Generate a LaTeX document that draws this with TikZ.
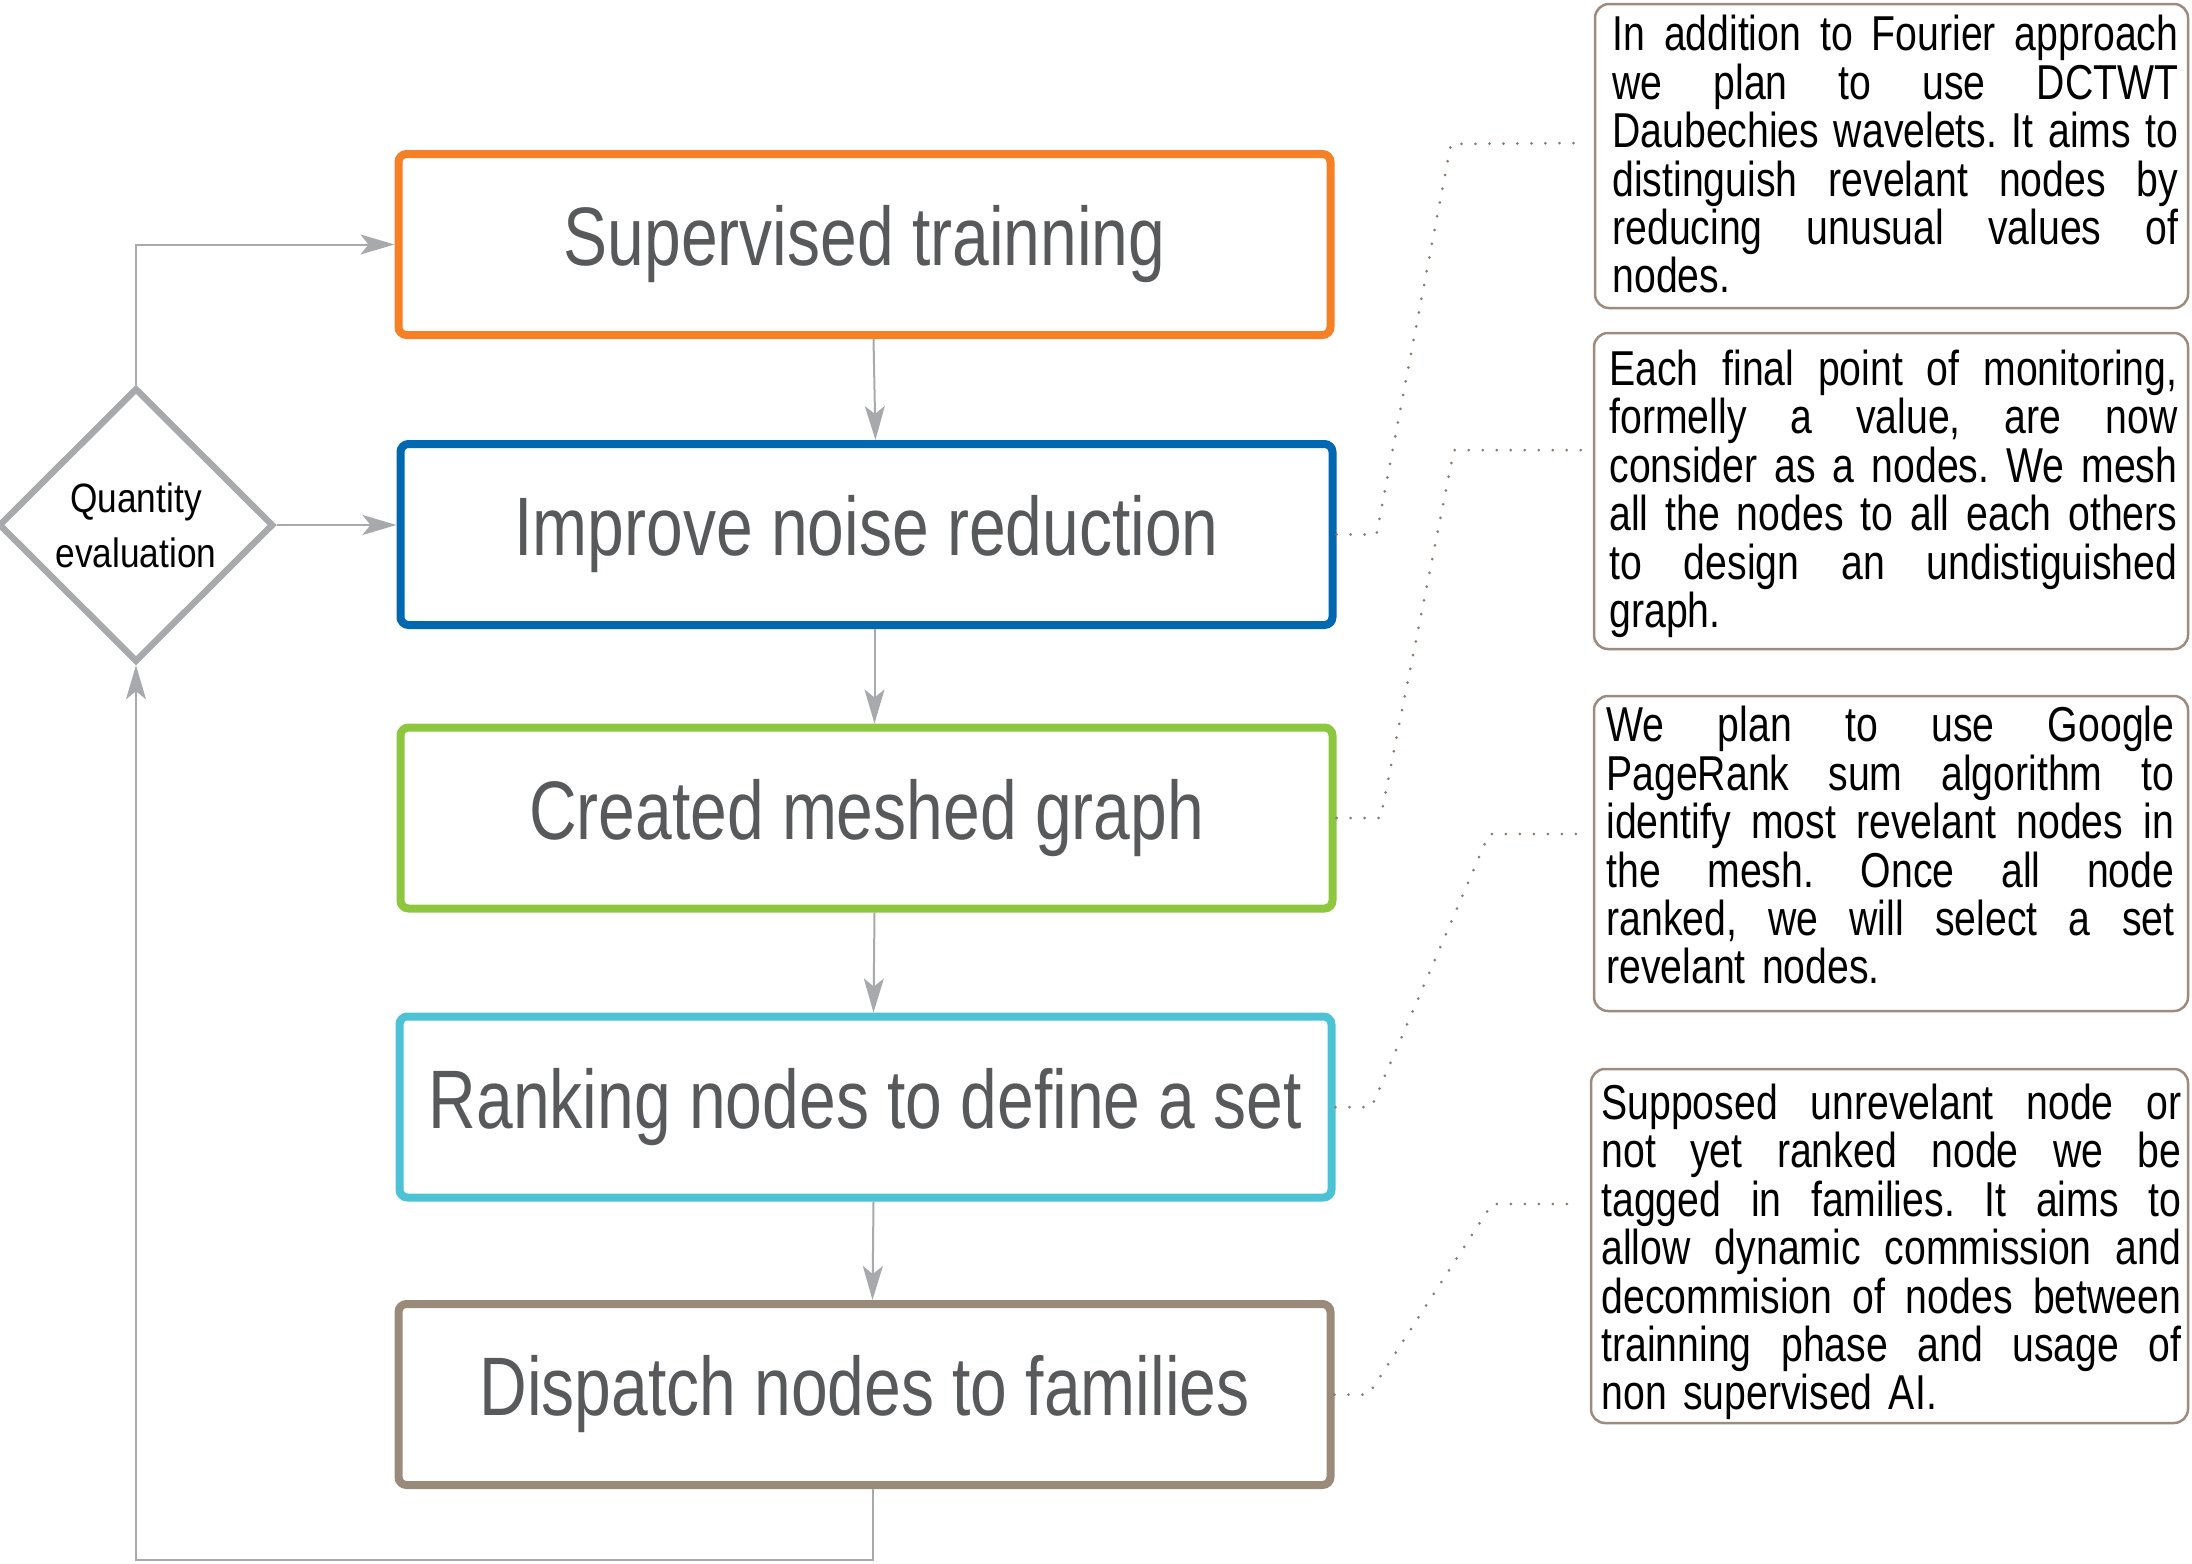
\documentclass[tikz,border=0pt]{standalone}
\usepackage{fontspec}
\setmainfont{Liberation Sans}
\newfontfamily\mainboxfont[FakeStretch=0.795]{Liberation Sans}
\newfontfamily\diafont[FakeStretch=0.86]{Liberation Sans}
\newfontfamily\sidefont[FakeStretch=0.80]{Liberation Sans}
\usetikzlibrary{shapes.geometric,arrows.meta}
\definecolor{cOrange}{HTML}{F58025}
\definecolor{cBlue}{HTML}{0067B1}
\definecolor{cGreen}{HTML}{8DC63F}
\definecolor{cCyan}{HTML}{4BC3D4}
\definecolor{cBrown}{HTML}{9A8A7A}
\definecolor{cGray}{HTML}{A7A9AC}
\definecolor{cText}{HTML}{58595B}
\definecolor{cBox}{HTML}{9C8B7E}
\definecolor{cDot}{HTML}{8C7B70}
\newlength\jw
\newcommand\jl[1]{\leavevmode\hbox to\jw{\spaceskip=0.25em plus 1fil minus 0.02em\relax #1}}
\frenchspacing
\begin{document}
\begin{tikzpicture}[x=0.5pt,y=-0.5pt,
  mbox/.style={draw=#1, line width=4pt, rounded corners=4pt, minimum width=466pt,
    minimum height=90.5pt, inner sep=0pt, text=cText,
    font=\mainboxfont\fontsize{41.5pt}{48pt}\selectfont},
  arr/.style={draw=cGray, line width=1pt, -{Stealth[length=17pt,width=10pt,inset=4pt]}},
  sbox/.style={draw=cBox, line width=1.25pt, rounded corners=7pt, inner sep=0pt},
  stext/.style={inner sep=0pt, anchor=north west, align=left, text width=#1,
    font=\sidefont\fontsize{24.5pt}{24.2pt}\selectfont},
  dots/.style={draw=cDot, line width=1.5pt, line cap=round, dash pattern=on 0pt off 7pt}]
\useasboundingbox (0,0) rectangle (2192,1564);

% main steps
\node[mbox=cOrange] (s1) at (864.5,244.5) {Supervised trainning};
\node[mbox=cBlue]   (s2) at (866.5,534.5) {Improve noise reduction};
\node[mbox=cGreen]  (s3) at (866.5,818)   {Created meshed graph};
\node[mbox=cCyan]   (s4) at (865.5,1107)  {Ranking nodes to define a set};
\node[mbox=cBrown]  (s5) at (864.5,1394.5){Dispatch nodes to families};

% decision
\node[diamond, draw=cGray, line width=3.25pt, minimum width=137.5pt, minimum height=137pt,
  inner sep=0pt, align=center, font=\diafont\fontsize{20.5pt}{27.5pt}\selectfont]
  (q) at (136,525) {Quantity\\evaluation};

% arrows
\draw[arr] (q.north) |- (s1.west);
\draw[arr] (q.east) -- (q.east -| s2.west);
\draw[arr] ([xshift=4.5pt]s1.south) -- ([xshift=4.5pt]s2.north);
\draw[arr] ([xshift=4pt]s2.south) -- ([xshift=4pt]s3.north);
\draw[arr] ([xshift=4pt]s3.south) -- ([xshift=4pt]s4.north);
\draw[arr] ([xshift=4pt]s4.south) -- ([xshift=4pt]s5.north);
\draw[arr] ([xshift=4pt]s5.south) -- ++(0,-35.5pt) -| (q.south);

% side boxes
\node[sbox, minimum width=296.5pt, minimum height=152pt] (bA) at (1891.5,156) {};
\node[sbox, minimum width=297pt, minimum height=158pt] (bB) at (1891,491) {};
\node[sbox, minimum width=297pt, minimum height=157.5pt] (bC) at (1891,853.5) {};
\node[sbox, minimum width=298.5pt, minimum height=177pt] (bD) at (1889.5,1246) {};

\node[stext=283pt] (tA) at (1612,15) {\setlength\jw{283pt}%
\jl{In addition to Fourier approach}\\
\jl{we plan to use DCTWT}\\
\jl{Daubechies wavelets. It aims to}\\
\jl{distinguish revelant nodes by}\\
\jl{reducing unusual values of}\\
nodes.};
\node[stext=284pt] (tB) at (1609,349.5) {\setlength\jw{284pt}%
\jl{Each final point of monitoring,}\\
\jl{formelly a value, are now}\\
\jl{consider as a nodes. We mesh}\\
\jl{all the nodes to all each others}\\
\jl{to design an undistiguished}\\
graph.};
\node[stext=284pt] (tC) at (1606,706) {\setlength\jw{284pt}%
\jl{We plan to use Google}\\
\jl{PageRank sum algorithm to}\\
\jl{identify most revelant nodes in}\\
\jl{the mesh. Once all node}\\
\jl{ranked, we will select a set}\\
revelant nodes.};
\node[stext=290pt] (tD) at (1601,1083.5) {\setlength\jw{290pt}%
\jl{Supposed unrevelant node or}\\
\jl{not yet ranked node we be}\\
\jl{tagged in families. It aims to}\\
\jl{allow dynamic commission and}\\
\jl{decommision of nodes between}\\
\jl{trainning phase and usage of}\\
non supervised AI.};

% dotted leaders
\coordinate (eA) at (1580,143);
\coordinate (eB) at (1584,450);
\coordinate (eC) at (1584,834);
\coordinate (eD) at (1580,1204);
\draw[dots] (s2.east) -- ++(20pt,0) -- (1451,144) -- (eA);
\draw[dots] (s3.east) -- ++(22pt,0) -- (1454,450) -- (eB);
\draw[dots] (s4.east) -- ++(18pt,0) -- (1489,834) -- (eC);
\draw[dots] (s5.east) -- ++(17pt,0) -- (1492,1204) -- (eD);
\end{tikzpicture}
\end{document}
